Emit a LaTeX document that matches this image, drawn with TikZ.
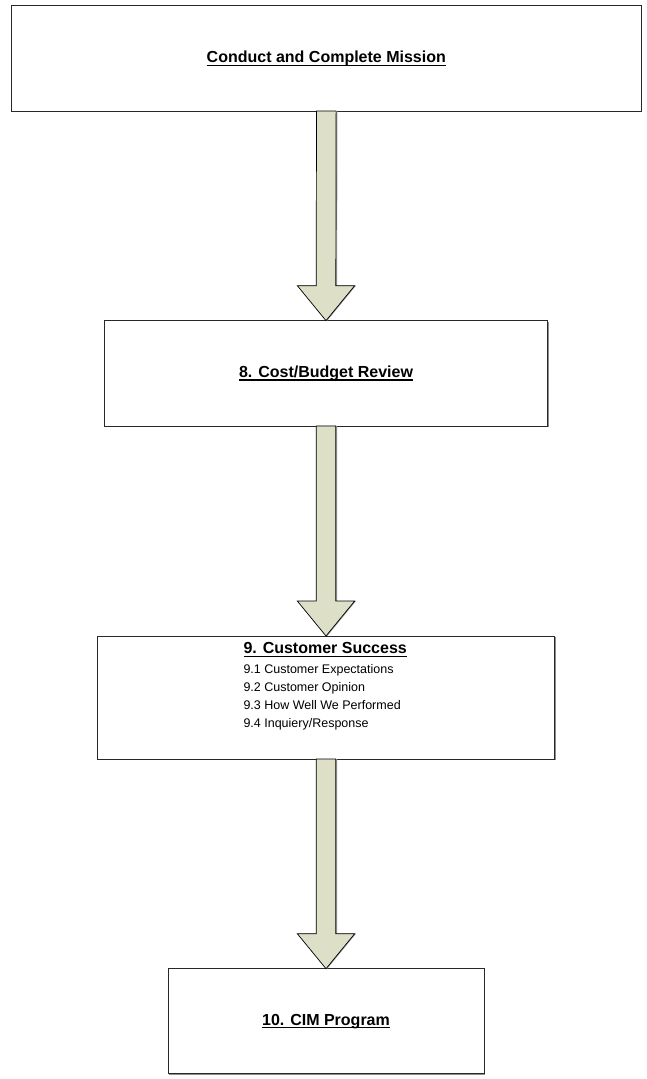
\documentclass[tikz,border=0pt]{standalone}
\usepackage{fontspec}
\setmainfont{Liberation Sans}
\usepackage{tikz}
\usetikzlibrary{calc,shadows}

\definecolor{arrowfill}{RGB}{221,223,199}
\definecolor{boxline}{RGB}{40,40,40}

% underlined title text
\newcommand{\undl}[1]{\setbox0\hbox{#1}\rlap{\rule[-3.1pt]{\wd0}{1.1pt}}\box0}

\begin{document}
\begin{tikzpicture}[x=1pt, y=-1pt,
    box/.style={rectangle, draw=boxline, line width=0.9pt, fill=white, inner sep=0pt, outer sep=0pt,
        drop shadow={shadow xshift=1.3pt, shadow yshift=-1.3pt, fill=black!45, opacity=1},
        font=\fontsize{16}{19}\selectfont\bfseries},
    bigarrow/.style={draw=black, line width=0.7pt, fill=arrowfill, line join=miter,
        drop shadow={shadow xshift=1.3pt, shadow yshift=0pt, fill=black!40, opacity=1}},
    listtext/.style={align=left, inner sep=0pt, font=\fontsize{12.5}{18}\selectfont}]
            \useasboundingbox (0,0) rectangle (646,1079);

            % Define boxes
            \node[box, minimum width=629.5pt, minimum height=105.3pt] (mission) at (326.3,58.4) {\undl{Conduct and Complete Mission}};
            \node[box, minimum width=443.4pt, minimum height=105.3pt] (cost) at (326,373.3) {\undl{8. Cost/Budget Review}};
            \node[box, minimum width=457.4pt, minimum height=123pt] (success) at (326,697.5) {};
            \node[box, minimum width=316pt, minimum height=105pt] (cim) at (326,1021.2) {\undl{10. CIM Program}};

            % Text of the customer success box
            \node[listtext, anchor=north west] (successtxt) at (243.3,642.5) {{\fontsize{16}{19}\selectfont\bfseries\undl{9. Customer Success}}\\[1.3pt]
                9.1 Customer Expectations\\
                9.2 Customer Opinion\\
                9.3 How Well We Performed\\
                9.4 Inquiery/Response};

            % Draw block arrows between the boxes
            \foreach \a/\b in {mission/cost, cost/success, success/cim}
                \draw[bigarrow] ($(\a.south)+(-9.8,0)$) -- ($(\b.north)+(-9.8,-35)$) -- ($(\b.north)+(-28.7,-35)$)
                    -- (\b.north) -- ($(\b.north)+(28.7,-35)$) -- ($(\b.north)+(9.8,-35)$) -- ($(\a.south)+(9.8,0)$) -- cycle;
        \end{tikzpicture}
\end{document}
